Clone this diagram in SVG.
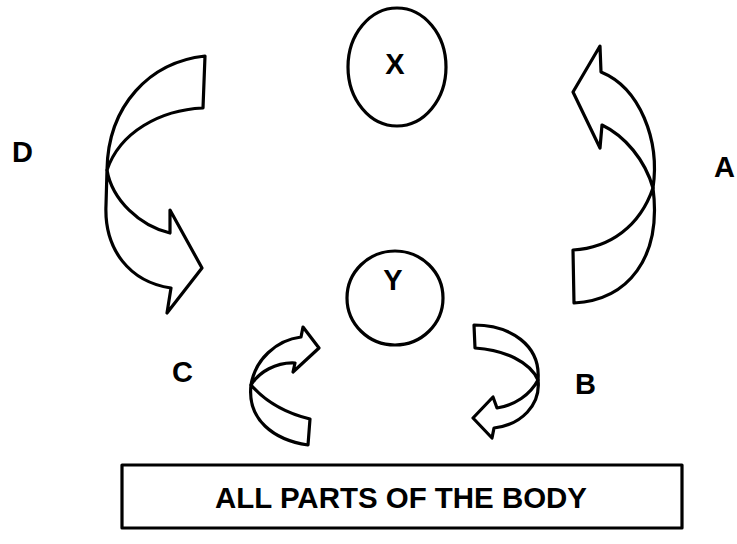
<svg xmlns="http://www.w3.org/2000/svg" width="737" height="544" viewBox="0 0 737 544">
<style>
.shape{fill:#fff;stroke:#000;stroke-width:3.2;stroke-linejoin:round}
.lbl{font-family:"Liberation Sans",Arial,sans-serif;font-weight:bold;font-size:29px;fill:#000}
</style>
<rect width="737" height="544" fill="#fff"/>
<g id="node-X">
<ellipse class="shape" cx="397" cy="67" rx="49" ry="59"/>
<text class="lbl" x="395" y="74" text-anchor="middle">X</text>
</g>
<g id="node-Y">
<ellipse class="shape" cx="395" cy="298" rx="48" ry="47"/>
<text class="lbl" x="393" y="290" text-anchor="middle">Y</text>
</g>
<g id="node-body">
<rect class="shape" x="122" y="465" width="560" height="63"/>
<text class="lbl" x="215" y="508" font-size="31" textLength="372" lengthAdjust="spacingAndGlyphs">ALL PARTS OF THE BODY</text>
</g>
<g id="connectors">
<g id="arrow-D">
<path class="shape" d="M205,56 C150,62 108,105 107,170 C120,132 160,110 203,108 Z"/>
<path class="shape" d="M107,170 C112,200 140,226 170,233 L170,210 L202,268 L167,313 L171,288 C130,282 104,250 106,205 Z"/>
</g>
<g id="arrow-A">
<path class="shape" d="M601,72 L600,46 L573,92 L600,148 L602,125 C625,136 645,160 653,188 C660,140 640,88 601,72 Z"/>
<path class="shape" d="M653,188 C640,226 610,248 573,250 L574,303 C628,300 662,258 653,188 Z"/>
</g>
<g id="arrow-C">
<path class="shape" d="M301,337 L303,327 L319,348 L293,372 L295,363 C276,362 259,372 251,385 C255,360 276,340 301,337 Z"/>
<path class="shape" d="M251,385 C265,401 285,413 310,419 L308,445 C274,440 247,420 251,385 Z"/>
</g>
<g id="arrow-B">
<path class="shape" d="M474,325 C510,325 541,345 538,380 C530,362 505,350 475,348 Z"/>
<path class="shape" d="M538,380 C530,395 515,405 497,408 L493,397 L473,418 L492,438 L494,428 C521,425 541,405 538,380 Z"/>
</g>
</g>
<g id="labels">
<text class="lbl" x="12" y="162">D</text>
<text class="lbl" x="714" y="177">A</text>
<text class="lbl" x="172" y="382">C</text>
<text class="lbl" x="575" y="394">B</text>
</g>
</svg>
